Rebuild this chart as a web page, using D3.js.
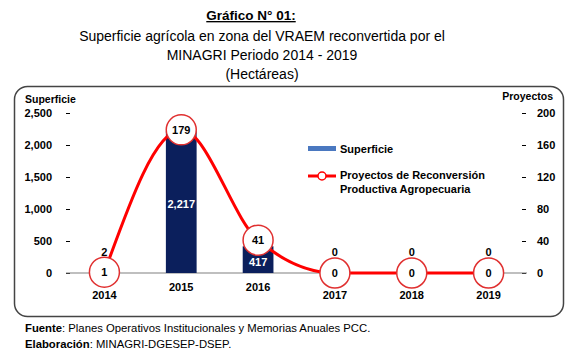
<!DOCTYPE html>
<html><head><meta charset="utf-8">
<script src="https://cdn.jsdelivr.net/npm/d3@7"></script>
<style>body{margin:0;background:#fff}svg{display:block;font-family:"Liberation Sans",Arial,sans-serif}</style>
</head><body><svg id="c" width="581" height="358"></svg>
<script>
const years = ["2014","2015","2016","2017","2018","2019"];
const superficie = [2, 2217, 417, 0, 0, 0];
const proyectos = [1, 179, 41, 0, 0, 0];
const leftTicks = [0, 500, 1000, 1500, 2000, 2500];
const rightTicks = [0, 40, 80, 120, 160, 200];
const titleLines = ["Superficie agrícola en zona del VRAEM reconvertida por el", "MINAGRI Periodo 2014 - 2019", "(Hectáreas)"];

const svg = d3.select("#c");
const fmt = d3.format(",");

// titles
svg.append("text").attr("x", 251).attr("y", 20).attr("text-anchor", "middle")
  .attr("font-size", 13.5).attr("font-weight", "bold").attr("text-decoration", "underline").text("Gráfico N° 01:");
titleLines.forEach((t, i) => svg.append("text").attr("x", 262).attr("y", 41 + i * 19)
  .attr("text-anchor", "middle").attr("font-size", 14).text(t));

// frame
svg.append("rect").attr("x", 14.5).attr("y", 86.5).attr("width", 549).attr("height", 230)
  .attr("rx", 13).attr("fill", "none").attr("stroke", "#444").attr("stroke-width", 1.5);

const x = d3.scaleBand().domain(years).range([66, 527]).paddingInner(0.6).paddingOuter(0.3);
const yL = d3.scaleLinear().domain([0, 2500]).range([273, 113]);
const yR = d3.scaleLinear().domain([0, 200]).range([273, 113]);
const cx = d => x(d) + x.bandwidth() / 2;

// axis titles
svg.append("text").attr("x", 25).attr("y", 103).attr("font-size", 10.5).attr("font-weight", "bold").text("Superficie");
svg.append("text").attr("x", 553).attr("y", 100).attr("text-anchor", "end").attr("font-size", 10.5).attr("font-weight", "bold").text("Proyectos");

// left axis
const la = svg.append("g").attr("transform", "translate(70,0)")
  .call(d3.axisLeft(yL).tickValues(leftTicks).tickFormat(fmt).tickSize(4).tickPadding(14));
la.select(".domain").remove();
la.selectAll("text").attr("font-size", 11).attr("font-weight", "bold").attr("font-family", "Liberation Sans, Arial, sans-serif").attr("fill", "#000");
la.selectAll("line").attr("stroke", "#000");

// right axis
const ra = svg.append("g").attr("transform", "translate(522,0)")
  .call(d3.axisRight(yR).tickValues(rightTicks).tickSize(4).tickPadding(11));
ra.select(".domain").remove();
ra.selectAll("text").attr("font-size", 11).attr("font-weight", "bold").attr("font-family", "Liberation Sans, Arial, sans-serif").attr("fill", "#000");
ra.selectAll("line").attr("stroke", "#000");

// baseline
svg.append("line").attr("x1", 66).attr("x2", 527).attr("y1", yL(0)).attr("y2", yL(0))
  .attr("stroke", "#808080").attr("stroke-width", 1.2);

// bars
svg.selectAll(".bar").data(years).enter().append("rect")
  .attr("x", d => x(d)).attr("width", x.bandwidth())
  .attr("y", (d, i) => yL(superficie[i])).attr("height", (d, i) => yL(0) - yL(superficie[i]))
  .attr("fill", "#0b1f5c");

// x labels
svg.selectAll(".xl").data(years).enter().append("text")
  .attr("x", d => cx(d)).attr("y", (d, i) => superficie[i] > 100 ? 291 : 299)
  .attr("text-anchor", "middle").attr("font-size", 11).attr("font-weight", "bold").text(d => d);

// line
const line = d3.line().x(d => cx(d)).y((d, i) => yR(proyectos[i])).curve(d3.curveMonotoneX);
svg.append("path").attr("d", line(years)).attr("fill", "none").attr("stroke", "#ff0000").attr("stroke-width", 3);

// bar value labels
svg.selectAll(".bv").data(years).enter().append("text")
  .attr("x", d => cx(d))
  .attr("y", (d, i) => superficie[i] > 100 ? (yL(superficie[i]) + yL(0)) / 2 + 6 : 256)
  .attr("text-anchor", "middle").attr("font-size", 11).attr("font-weight", "bold")
  .attr("fill", (d, i) => superficie[i] > 100 ? "#fff" : "#000")
  .text((d, i) => fmt(superficie[i]));

// markers
svg.selectAll(".mk").data(years).enter().append("circle")
  .attr("cx", d => cx(d)).attr("cy", (d, i) => yR(proyectos[i])).attr("r", 15)
  .attr("fill", "#fff").attr("stroke", "#e03030").attr("stroke-width", 1.5);
svg.selectAll(".ml").data(years).enter().append("text")
  .attr("x", d => cx(d)).attr("y", (d, i) => yR(proyectos[i]) + 4)
  .attr("text-anchor", "middle").attr("font-size", 11).attr("font-weight", "bold").text((d, i) => proyectos[i]);

// legend
svg.append("rect").attr("x", 308).attr("y", 146).attr("width", 28).attr("height", 5).attr("fill", "#4a78c0");
svg.append("text").attr("x", 340).attr("y", 153).attr("font-size", 11).attr("font-weight", "bold").text("Superficie");
svg.append("line").attr("x1", 308).attr("x2", 336).attr("y1", 176).attr("y2", 176).attr("stroke", "#ff0000").attr("stroke-width", 3);
svg.append("circle").attr("cx", 322).attr("cy", 176).attr("r", 4).attr("fill", "#fff").attr("stroke", "#ff0000").attr("stroke-width", 1.5);
svg.append("text").attr("x", 340).attr("y", 179).attr("font-size", 11).attr("font-weight", "bold").text("Proyectos de Reconversión");
svg.append("text").attr("x", 340).attr("y", 193).attr("font-size", 11).attr("font-weight", "bold").text("Productiva Agropecuaria");

// footer
const f1 = svg.append("text").attr("x", 25).attr("y", 332).attr("font-size", 11.3);
f1.append("tspan").attr("font-weight", "bold").text("Fuente");
f1.append("tspan").text(": Planes Operativos Institucionales y Memorias Anuales PCC.");
const f2 = svg.append("text").attr("x", 25).attr("y", 348).attr("font-size", 11.3);
f2.append("tspan").attr("font-weight", "bold").text("Elaboración");
f2.append("tspan").text(": MINAGRI-DGESEP-DSEP.");
</script></body></html>
